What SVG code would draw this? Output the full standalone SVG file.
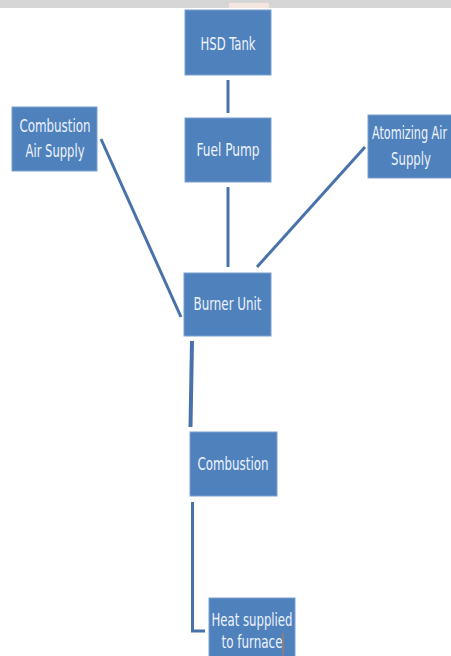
<svg xmlns="http://www.w3.org/2000/svg" width="451" height="656" viewBox="0 0 451 656">
<style>
.box{fill:#4f81bd;stroke:#7da0d0;stroke-width:1}
.t{font-family:"DejaVu Sans Condensed","Liberation Sans",sans-serif;font-size:17px;fill:#eef3fa;text-anchor:middle}
.c{stroke:#4a72aa;stroke-width:3;fill:none}
</style>
<rect x="0" y="0" width="451" height="656" fill="#ffffff"/>
<rect x="0" y="0" width="451" height="8" fill="#d6d6d6"/>
<rect x="229" y="3" width="40" height="5" fill="#f3e6e0"/>
<g id="connectors">
<line class="c" x1="228" y1="80" x2="228" y2="113"/>
<line class="c" x1="228" y1="187" x2="228" y2="267"/>
<line class="c" x1="101" y1="139" x2="181" y2="317"/>
<line class="c" x1="365" y1="147" x2="257" y2="267"/>
<line class="c" x1="192" y1="341" x2="190.5" y2="427" style="stroke-width:4"/>
<polyline class="c" points="192.5,502 192.5,631 205,631"/>
</g>
<g id="hsd-tank">
<rect class="box" x="185" y="10" width="86" height="65"/>
<text class="t" x="228" y="50" textLength="55" lengthAdjust="spacingAndGlyphs">HSD Tank</text>
</g>
<g id="fuel-pump">
<rect class="box" x="185" y="118" width="86" height="64"/>
<text class="t" x="228" y="156" textLength="63" lengthAdjust="spacingAndGlyphs">Fuel Pump</text>
</g>
<g id="combustion-air-supply">
<rect class="box" x="12" y="107" width="85" height="64"/>
<text class="t" x="55" y="132" textLength="71" lengthAdjust="spacingAndGlyphs">Combustion</text>
<text class="t" x="55" y="157" textLength="59" lengthAdjust="spacingAndGlyphs">Air Supply</text>
</g>
<g id="atomizing-air-supply">
<rect class="box" x="368" y="115" width="90" height="63"/>
<text class="t" x="409.5" y="139" textLength="75" lengthAdjust="spacingAndGlyphs">Atomizing Air</text>
<text class="t" x="411" y="165" textLength="40" lengthAdjust="spacingAndGlyphs">Supply</text>
</g>
<g id="burner-unit">
<rect class="box" x="184" y="273" width="87" height="63"/>
<text class="t" x="227.5" y="310" textLength="68" lengthAdjust="spacingAndGlyphs">Burner Unit</text>
</g>
<g id="combustion">
<rect class="box" x="190" y="432" width="87" height="64"/>
<text class="t" x="233" y="470" textLength="71" lengthAdjust="spacingAndGlyphs">Combustion</text>
</g>
<g id="heat-supplied">
<rect class="box" x="209" y="598" width="86" height="62"/>
<text class="t" x="252" y="626" textLength="81" lengthAdjust="spacingAndGlyphs">Heat supplied</text>
<text class="t" x="252" y="648" textLength="61" lengthAdjust="spacingAndGlyphs">to furnace</text>
<line x1="283" y1="633" x2="283" y2="655" stroke="#c08040" stroke-width="1"/>
</g>
</svg>
